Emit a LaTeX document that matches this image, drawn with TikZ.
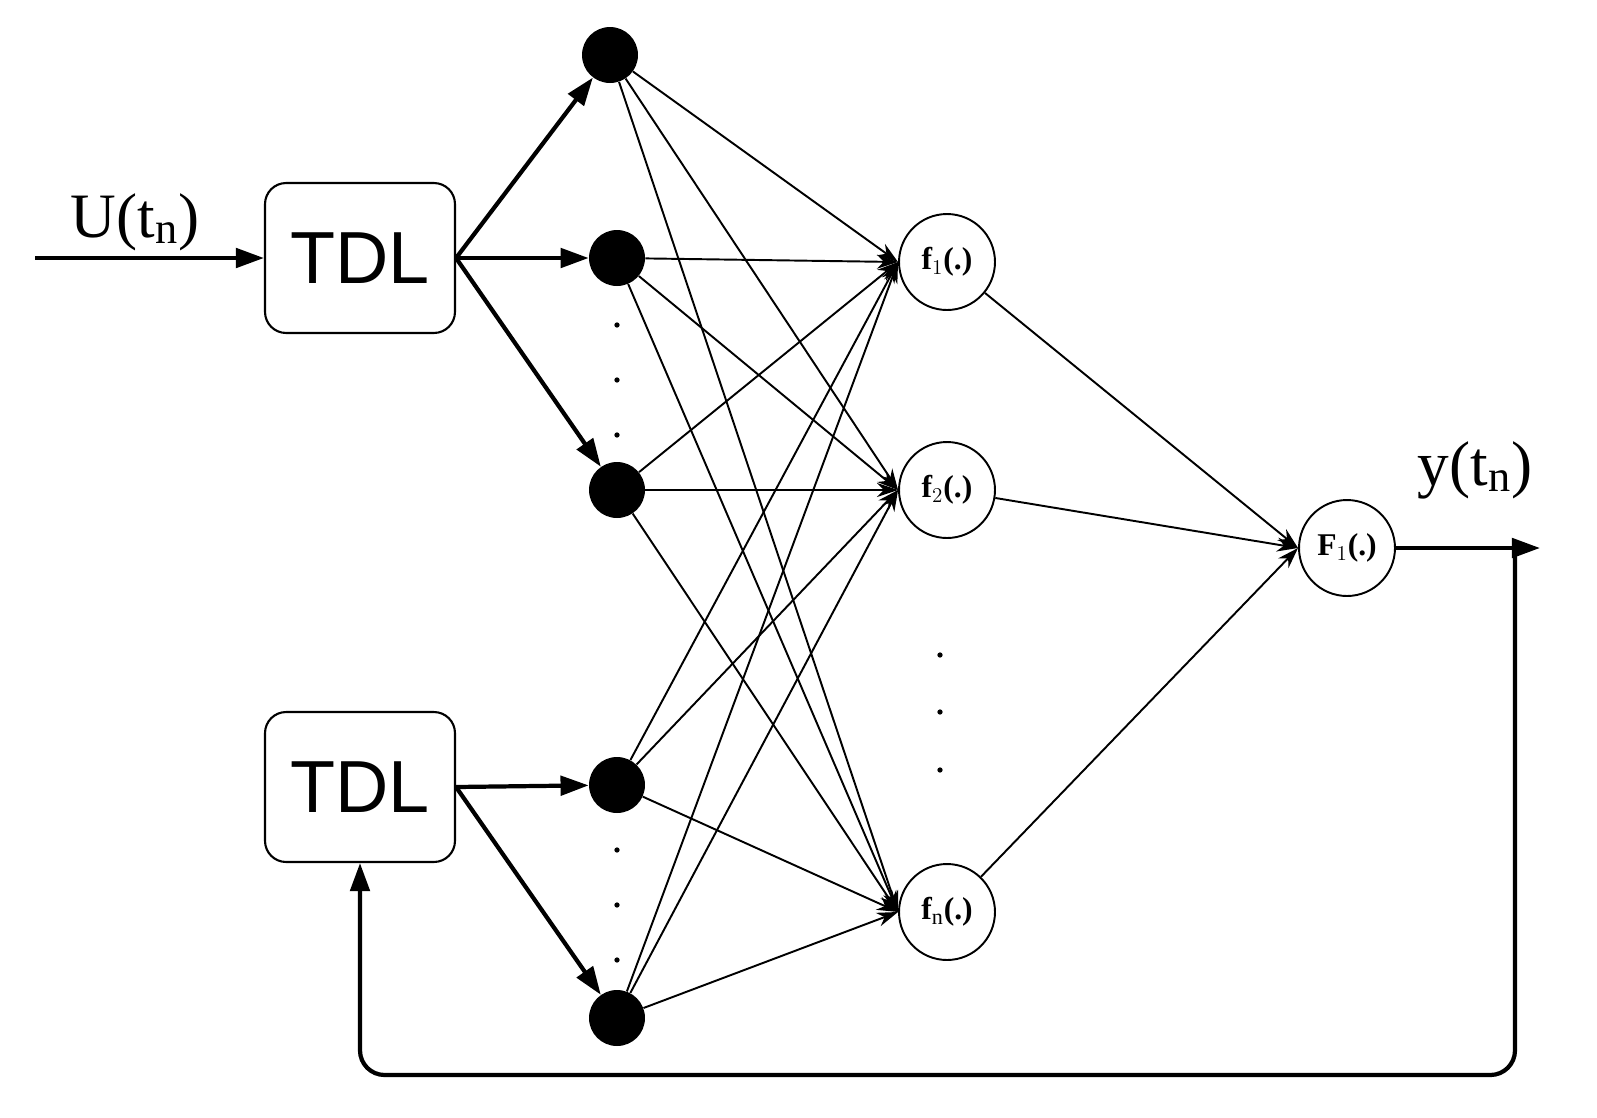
\documentclass[tikz,border=0pt]{standalone}
\usepackage{fontspec}
\setmainfont{Liberation Serif}
\newfontfamily\sans{Liberation Sans}
\usetikzlibrary{arrows.meta}
\begin{document}
\begin{tikzpicture}[x=0.02cm,y=-0.02cm,
 box/.style={draw,line width=1.2pt,rounded corners=12pt,minimum width=3.8cm,minimum height=3cm,font=\sans\fontsize{42}{42}\selectfont},
 dot/.style={circle,fill=black,minimum size=1.12cm,inner sep=0pt},
 fn/.style={circle,draw,line width=1.1pt,minimum size=1.92cm,inner sep=0pt,font=\bfseries\fontsize{18}{18}\selectfont},
 thk/.style={line width=2.4pt,-{Triangle[length=16pt,width=11pt]}},
 thn/.style={line width=1.1pt,-{Stealth[length=12pt,width=8pt]}},
 dt/.style={circle,fill=black,inner sep=0pt,minimum size=3pt}]
\useasboundingbox (0,0) rectangle (1597,1117);
\node[box] (T1) at (360,258) {TDL};
\node[box] (T2) at (360,787) {TDL};
\coordinate (in) at (35,258);
\node[font=\fontsize{36}{36}\selectfont] at (135,222) {U(t$_{\mathrm{n}}$)};
\node[dot] (d1) at (610,55) {};
\node[dot] (d2) at (617,258) {};
\node[dot] (d3) at (617,490) {};
\node[dot] (d4) at (617,785) {};
\node[dot] (d5) at (617,1018) {};
\foreach \y in {325,380,435,850,905,960} \node[dt] at (617,\y) {};
\foreach \y in {655,712,770} \node[dt] at (940,\y) {};
\node[fn] (f1) at (947,262) {f$_1$(.)};
\node[fn] (f2) at (947,490) {f$_2$(.)};
\node[fn] (f3) at (947,912) {f$_{\mathrm{n}}$(.)};
\node[fn] (F) at (1347,548) {F$_1$(.)};
\coordinate (out) at (1540,548);
\coordinate (c1) at (1515,548);
\node[font=\fontsize{36}{36}\selectfont] at (1475,470) {y(t$_{\mathrm{n}}$)};
\draw[thk] (in) -- (T1);
\draw[thk] (T1.east) -- (d1);
\draw[thk] (T1.east) -- (d2);
\draw[thk] (T1.east) -- (d3);
\draw[thk] (T2.east) -- (d4);
\draw[thk] (T2.east) -- (d5);
\foreach \d in {d1,d2,d3,d4,d5} \foreach \f in {f1,f2,f3} \draw[thn] (\d) -- (\f.west);
\foreach \f in {f1,f2,f3} \draw[thn] (\f) -- (F.west);
\draw[thk] (F) -- (out);
\draw[thk,rounded corners=14pt] (c1) -- (1515,1075) -- (360,1075) -- (T2.south);
\end{tikzpicture}
\end{document}
